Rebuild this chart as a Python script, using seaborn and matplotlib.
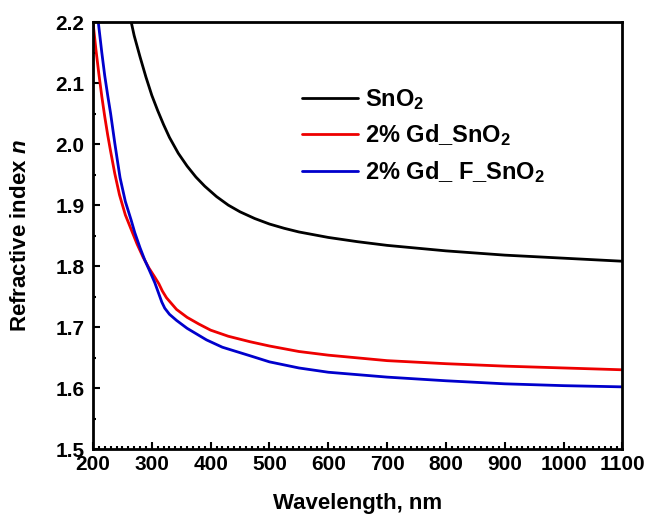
import matplotlib

matplotlib.use("agg")
import matplotlib.pyplot as plt
import pandas as pd
import seaborn as sns
from matplotlib.ticker import MultipleLocator

# data
sno2_wl = [265, 270, 280, 290, 300, 310, 320, 330, 345, 360, 375, 390, 410,
           430, 450, 475, 500, 525, 550, 600, 650, 700, 800, 900, 1000, 1100]
sno2_n = [2.200, 2.178, 2.143, 2.110, 2.080, 2.055, 2.032, 2.011, 1.985, 1.964,
          1.946, 1.931, 1.914, 1.900, 1.889, 1.878, 1.869, 1.862, 1.856, 1.847,
          1.840, 1.834, 1.825, 1.818, 1.813, 1.808]

gd_wl = [200, 205, 210, 215, 220, 225, 230, 237, 245, 255, 265, 275, 285, 295,
         305, 312, 318, 325, 342, 360, 380, 400, 430, 467, 500, 550, 600, 700,
         800, 900, 1000, 1100]
gd_n = [2.200, 2.155, 2.115, 2.078, 2.045, 2.015, 1.988, 1.952, 1.917, 1.884,
        1.860, 1.836, 1.815, 1.797, 1.782, 1.771, 1.759, 1.748, 1.729, 1.716,
        1.705, 1.695, 1.685, 1.676, 1.669, 1.660, 1.654, 1.645, 1.640, 1.636,
        1.633, 1.630]

gdf_wl = [209, 215, 220, 225, 230, 237, 242, 246, 255, 265, 271, 280, 288, 295,
          305, 311, 317, 322, 330, 342, 360, 393, 420, 467, 500, 550, 600, 700,
          800, 900, 1000, 1100]
gdf_n = [2.200, 2.150, 2.112, 2.080, 2.050, 2.002, 1.970, 1.945, 1.906, 1.875,
         1.855, 1.830, 1.810, 1.795, 1.773, 1.757, 1.741, 1.731, 1.721, 1.711,
         1.698, 1.679, 1.667, 1.653, 1.643, 1.633, 1.626, 1.618, 1.612, 1.607,
         1.604, 1.602]

labels = [r"SnO$_2$", r"2% Gd_SnO$_2$", r"2% Gd_ F_SnO$_2$"]
colors = ["#000000", "#ee0000", "#0000cc"]

# long table for seaborn
df = pd.concat([
    pd.DataFrame({"wl": sno2_wl, "n": sno2_n, "sample": labels[0]}),
    pd.DataFrame({"wl": gd_wl, "n": gd_n, "sample": labels[1]}),
    pd.DataFrame({"wl": gdf_wl, "n": gdf_n, "sample": labels[2]}),
])

sns.set_style("ticks")
plt.rcParams["font.family"] = ["Liberation Sans", "DejaVu Sans"]
plt.rcParams["font.weight"] = "bold"
plt.rcParams["mathtext.fontset"] = "custom"
plt.rcParams["mathtext.rm"] = "Liberation Sans:bold"
plt.rcParams["mathtext.bf"] = "Liberation Sans:bold"
plt.rcParams["mathtext.it"] = "Liberation Sans:italic:bold"
for key in ["text.color", "axes.labelcolor", "xtick.color", "ytick.color"]:
    plt.rcParams[key] = "black"

fig = plt.figure(figsize=(6.48, 5.15), dpi=100)
ax = fig.add_axes([0.1435, 0.128, 0.817, 0.829])

sns.lineplot(data=df, x="wl", y="n", hue="sample", palette=colors,
             linewidth=2.0, ax=ax, sort=False)

ax.set_xlim(200, 1100)
ax.set_ylim(1.5, 2.2)
ax.xaxis.set_major_locator(MultipleLocator(100))
ax.xaxis.set_minor_locator(MultipleLocator(10))
ax.yaxis.set_major_locator(MultipleLocator(0.1))
ax.yaxis.set_minor_locator(MultipleLocator(0.05))
ax.tick_params(which="both", direction="in", top=False, right=False,
               width=1.5, labelsize=15, colors="black")
ax.tick_params(which="major", length=5)
ax.tick_params(which="minor", length=2.5)
ax.tick_params(axis="x", pad=4)
ax.tick_params(axis="y", pad=6)
for lab in ax.get_xticklabels() + ax.get_yticklabels():
    lab.set_fontweight("bold")
for sp in ax.spines.values():
    sp.set_linewidth(2)
    sp.set_color("black")

ax.set_xlabel("Wavelength, nm", fontsize=16, fontweight="bold")
ax.set_ylabel(r"Refractive index $\it{n}$", fontsize=16, fontweight="bold")
ax.xaxis.set_label_coords(0.5, -0.103)
ax.yaxis.set_label_coords(-0.117, 0.5)

leg = ax.legend(frameon=False, loc="upper left", bbox_to_anchor=(0.395, 0.848),
                borderaxespad=0, borderpad=0, handlelength=2.37,
                handletextpad=0.3, labelspacing=0.45,
                prop={"size": 17, "weight": "bold"})
for t in leg.get_texts():
    t.set_color("black")

plt.savefig("out.png", dpi=100)
